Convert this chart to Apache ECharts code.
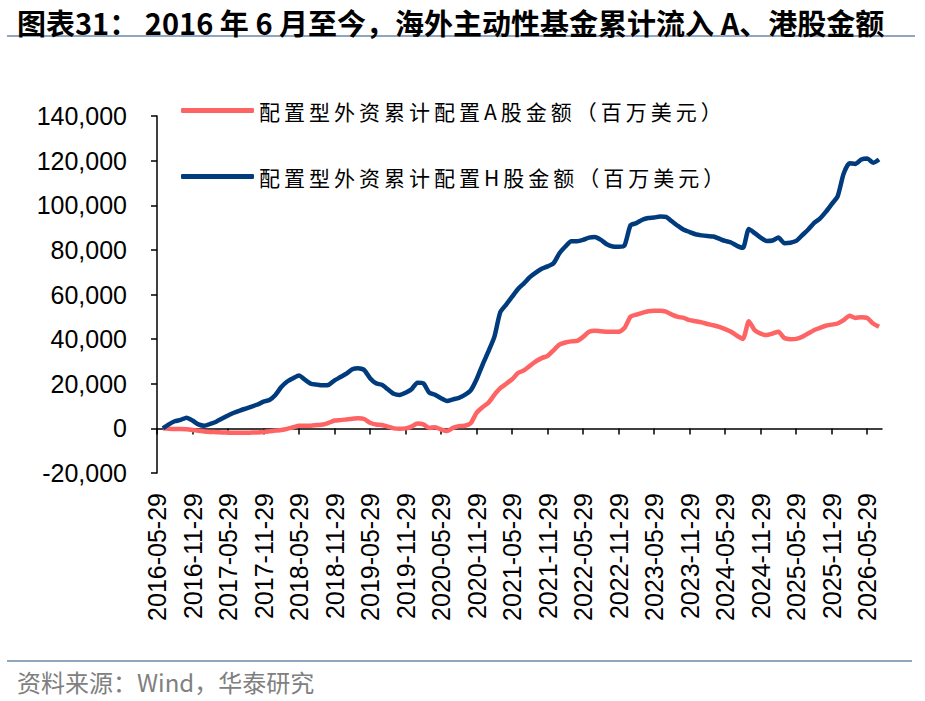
<!DOCTYPE html>
<html>
<head>
<meta charset="utf-8">
<script src="https://cdn.jsdelivr.net/npm/echarts@6/dist/echarts.min.js"></script>
<style>
    html, body { margin: 0; padding: 0; background: #fff; }
    #chart { width: 925px; height: 701px; }
    /* legend text is spread out in the source picture */
    #chart text[style*="21px"] { letter-spacing: 4px; }
</style>
</head>
<body>
<div id="chart"></div>
<script>
// tick labels, one every 6 months
var tickLabels = ['2016-05-29', '2016-11-29', '2017-05-29', '2017-11-29', '2018-05-29',
    '2018-11-29', '2019-05-29', '2019-11-29', '2020-05-29', '2020-11-29', '2021-05-29',
    '2021-11-29', '2022-05-29', '2022-11-29', '2023-05-29', '2023-11-29', '2024-05-29',
    '2024-11-29', '2025-05-29', '2025-11-29', '2026-05-29'];

// month-end values, first point is one month after 2016-05-29
var firstMonth = 1;

// 配置型外资累计配置A股金额（百万美元）
var aShare = [0, -200, -300, -300, -400, -700, -1100, -1400, -1600, -1700,
    -1800, -1900, -2000, -2000, -2000, -1900, -1800, -1600, -1300, -1000,
    -700, -200, 500, 1200, 1200, 1200, 1500, 1700, 2500, 3500,
    3700, 4000, 4300, 4500, 4200, 2500, 1700, 1500, 800, 0,
    -200, 0, 800, 2200, 1800, 200, 500, -500, -1200, 200,
    1000, 1200, 2300, 7000, 9500, 11500, 15000, 18000, 20000, 22000,
    24800, 26000, 28000, 30000, 31500, 32500, 35000, 37500, 38500,
    39000, 39200, 41000, 43300, 43800, 43500, 43300, 43300, 43300, 45000,
    50000, 51000, 51800, 52500, 52700, 52700, 52300, 51000, 50000, 49500,
    48500, 48000, 47500, 46800, 46200, 45500, 44500, 43300, 41500, 40100,
    48000, 44000, 42500, 41800, 42500, 43300, 40500, 40000, 40100, 41000,
    42500, 44000, 45000, 46000, 46500, 47000, 48500, 50500, 49500, 49800,
    49500, 47000, 45500];

// 配置型外资累计配置H股金额（百万美元）
var hShare = [0, 1800, 3200, 3800, 4800, 3500, 1800, 1200, 2000, 3000,
    4400, 5800, 7000, 8000, 8900, 9800, 10700, 12000, 12700, 15000,
    18500, 21000, 22500, 23700, 21800, 20000, 19600, 19300, 19500, 21500,
    23000, 24500, 26500, 27000, 26200, 22500, 20200, 19500, 17500, 15500,
    15000, 16000, 17500, 20500, 20200, 16000, 15000, 13500, 12300, 13000,
    13700, 15000, 17000, 22000, 28500, 34500, 41000, 52000, 55500, 59000,
    62500, 65000, 67800, 69800, 71500, 72600, 74000, 78500, 81500,
    83900, 83900, 84500, 85500, 85800, 84500, 82500, 81500, 81400, 82000,
    91000, 92000, 93500, 94300, 94500, 95000, 94800, 92800, 90800, 89000,
    88000, 87000, 86500, 86200, 86000, 85000, 84000, 83300, 81800, 80900,
    89400, 87500, 85500, 84000, 84200, 85500, 83000, 83200, 84000, 86500,
    89000, 92000, 94000, 97000, 100500, 104000, 114000, 118800, 118500, 120500,
    121000, 119000, 120500];

var seriesNames = ['配置型外资累计配置A股金额（百万美元）', '配置型外资累计配置H股金额（百万美元）'];

function toPairs(values) {
    var res = [];
    for (var i = 0; i < values.length; i++) {
        res.push([firstMonth + i, values[i]]);
    }
    return res;
}

var tickValues = tickLabels.map(function (label, i) {
    return i * 6;
});

var myChart = echarts.init(document.getElementById('chart'), null, {renderer: 'svg'});

var axisFont = 'Liberation Sans, Arial, sans-serif';
var cjkFont = '"Noto Sans CJK SC", sans-serif';

var option = {
    backgroundColor: '#ffffff',
    animation: false,
    title: [
        {
            text: '图表31： 2016 年 6 月至今，海外主动性基金累计流入 A、港股金额',
            left: 12,
            top: 2,
            textStyle: {fontFamily: cjkFont, fontSize: 29, fontWeight: 'bold', color: '#000'}
        },
        {
            text: '资料来源：Wind，华泰研究',
            left: 12,
            top: 664,
            textStyle: {fontFamily: cjkFont, fontSize: 24, fontWeight: 'normal', color: '#808080'}
        }
    ],
    graphic: [
        {type: 'line', shape: {x1: 7, y1: 36, x2: 915, y2: 36}, style: {stroke: '#8fa6c1', lineWidth: 2}},
        {type: 'line', shape: {x1: 7, y1: 661, x2: 912, y2: 661}, style: {stroke: '#8fa6c1', lineWidth: 2}}
    ],
    legend: [
        {
            data: [seriesNames[0]],
            left: 176,
            top: 95,
            itemWidth: 73,
            itemHeight: 5,
            icon: 'roundRect',
            textStyle: {fontFamily: cjkFont, fontSize: 21, color: '#000'}
        },
        {
            data: [seriesNames[1]],
            left: 176,
            top: 161,
            itemWidth: 73,
            itemHeight: 5,
            icon: 'roundRect',
            textStyle: {fontFamily: cjkFont, fontSize: 21, color: '#000'}
        }
    ],
    grid: {left: 157, right: 43, top: 116, bottom: 228, outerBoundsMode: 'none'},
    xAxis: [
        {
            // line through zero with the ticks
            type: 'value',
            position: 'top',
            min: 0,
            max: 122.5,
            axisLine: {show: true, onZero: true, lineStyle: {color: '#000', width: 1.5}},
            axisTick: {show: true, inside: true, length: 6, customValues: tickValues,
                lineStyle: {color: '#000', width: 1.5}},
            axisLabel: {show: false},
            splitLine: {show: false}
        },
        {
            // date labels under the plot
            type: 'value',
            position: 'bottom',
            min: 0,
            max: 122.5,
            axisLine: {show: false, onZero: false},
            axisTick: {show: false},
            axisLabel: {
                show: true,
                customValues: tickValues,
                rotate: 90,
                margin: 20,
                fontFamily: axisFont,
                fontSize: 25,
                color: '#000',
                formatter: function (v) {
                    return tickLabels[Math.round(v / 6)] || '';
                }
            },
            splitLine: {show: false}
        }
    ],
    yAxis: {
        type: 'value',
        min: -20000,
        max: 140000,
        interval: 20000,
        axisLine: {show: true, lineStyle: {color: '#000', width: 1.5}},
        axisTick: {show: true, length: 6, lineStyle: {color: '#000', width: 1.5}},
        axisLabel: {
            margin: 30,
            fontFamily: axisFont,
            fontSize: 25,
            color: '#000',
            formatter: function (v) {
                return echarts.format.addCommas(v);
            }
        },
        splitLine: {show: false}
    },
    series: [
        {
            name: seriesNames[0],
            type: 'line',
            xAxisIndex: 0,
            data: toPairs(aShare),
            showSymbol: false,
            symbol: 'none',
            smooth: 0.2,
            itemStyle: {color: '#ff6464'},
            lineStyle: {color: '#ff6464', width: 4.5}
        },
        {
            name: seriesNames[1],
            type: 'line',
            xAxisIndex: 0,
            data: toPairs(hShare),
            showSymbol: false,
            symbol: 'none',
            smooth: 0.2,
            itemStyle: {color: '#003b7d'},
            lineStyle: {color: '#003b7d', width: 4.5}
        }
    ]
};

if (option && typeof option === 'object') {
    myChart.setOption(option, true);
}
</script>
</body>
</html>
